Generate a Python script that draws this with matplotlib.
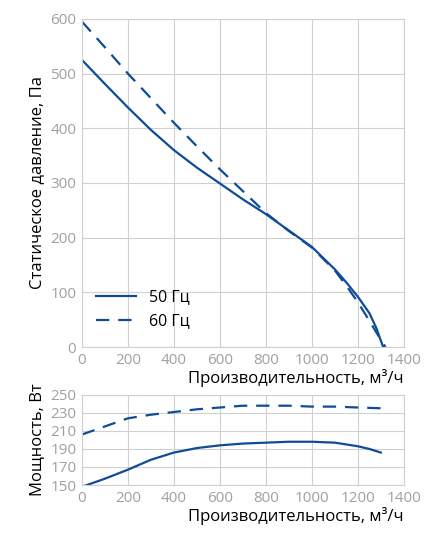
import numpy as np
import matplotlib.pyplot as plt

plt.rcParams['font.family'] = ['Open Sans', 'DejaVu Sans']

# ======================
# Данные
# ======================
q_p50 = [0, 100, 200, 300, 400, 500, 600, 700, 800, 900, 1000, 1100, 1150, 1200, 1250, 1280, 1310]
p50 = [525, 481, 438, 397, 360, 328, 299, 270, 243, 213, 183, 142, 118, 92, 62, 35, 0]
q_p60 = [0, 100, 200, 300, 400, 500, 600, 700, 800, 900, 1000, 1100, 1150, 1200, 1250, 1290, 1320]
p60 = [595, 548, 500, 455, 410, 367, 325, 285, 245, 212, 182, 140, 112, 82, 48, 20, 0]

q_w50 = [0, 100, 200, 300, 400, 500, 600, 700, 800, 900, 1000, 1100, 1200, 1250, 1300]
w50 = [148, 157, 167, 178, 186, 191, 194, 196, 197, 198, 198, 197, 193, 190, 186]
q_w60 = [0, 100, 200, 300, 400, 500, 600, 700, 800, 900, 1000, 1100, 1200, 1320]
w60 = [206, 215, 224, 228, 231, 234, 236, 238, 238, 238, 237, 237, 236, 235]

BLUE = '#0f4c97'
GRAY = '#a0a0a0'
XLABEL = 'Производительность, м³/ч'

fig = plt.figure(figsize=(4.31, 5.38), dpi=100)
ax1 = fig.add_axes([0.19, 0.355, 0.747, 0.61])
ax2 = fig.add_axes([0.19, 0.0985, 0.747, 0.1675])

def style(ax):
    ax.grid(True, color='#d0d0d0', linewidth=0.8)
    ax.set_axisbelow(True)
    for s in ax.spines.values():
        s.set_color('#d0d0d0')
    ax.tick_params(colors=GRAY, labelsize=11, length=0, pad=4)
    ax.set_xlim(0, 1400)
    ax.set_xticks(range(0, 1401, 200))
    ax.set_xlabel(XLABEL, fontsize=12, labelpad=1, loc='right')

# ---------- давление ----------
ax1.plot(q_p50, p50, color=BLUE, lw=1.6, label='50 Гц')
ax1.plot(q_p60, p60, color=BLUE, lw=1.6, ls=(0, (6, 4)), label='60 Гц')
ax1.set_ylim(0, 600)
ax1.set_yticks(range(0, 601, 100))
ax1.set_ylabel('Статическое давление, Па', fontsize=12)
style(ax1)
ax1.legend(loc='lower left', bbox_to_anchor=(0.0, 0.01), frameon=False, fontsize=11.5,
           handlelength=2.5)

# ---------- мощность ----------
ax2.plot(q_w50, w50, color=BLUE, lw=1.6)
ax2.plot(q_w60, w60, color=BLUE, lw=1.6, ls=(0, (6, 4)))
ax2.set_ylim(150, 250)
ax2.set_yticks(range(150, 251, 20))
ax2.set_ylabel('Мощность, Вт', fontsize=12)
style(ax2)

fig.savefig('out.png', dpi=100)
